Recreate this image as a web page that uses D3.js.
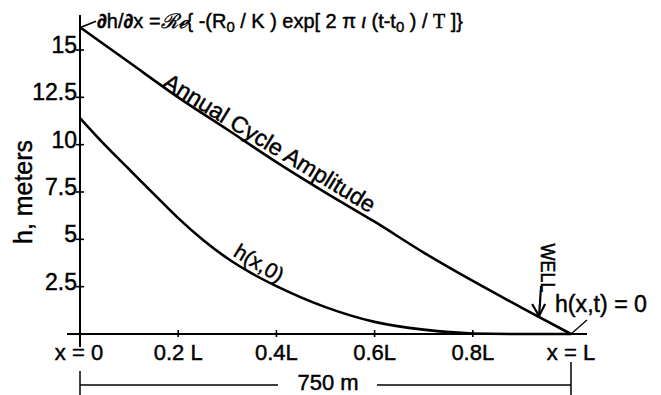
<!DOCTYPE html>
<html>
<head>
<meta charset="utf-8">
<script src="https://cdn.jsdelivr.net/npm/d3@7"></script>
<style>
  html, body { margin: 0; padding: 0; background: #fff; }
  svg { display: block; }
  text { font-family: "Liberation Sans", Arial, sans-serif; fill: #000; stroke: #000; stroke-width: 0.45px; }
</style>
</head>
<body>
<svg id="chart" width="661" height="395"></svg>
<script>
// Distance along the aquifer as a fraction of L (L = 750 m)
const ampX = [0, 0.1, 0.2, 0.3, 0.4, 0.5, 0.6, 0.7, 0.8, 0.9, 1.0];
// Annual cycle amplitude of head (metres)
const annualAmplitude = [16.2, 14.35, 12.5, 10.8, 9.08, 7.47, 5.93, 4.3, 2.8, 1.38, 0];

const headX = [0, 0.05, 0.1, 0.15, 0.2, 0.25, 0.3, 0.35, 0.4, 0.5, 0.6, 0.7, 0.8, 0.9, 1.0];
// Initial head profile h(x,0) (metres)
const initialHead = [11.4, 10.0, 8.7, 7.4, 6.12, 4.98, 4.0, 3.2, 2.53, 1.42, 0.64, 0.23, 0.03, 0, 0];

// Axis ticks
const yTickValues = [2.5, 5, 7.5, 10, 12.5, 15];
const yTickLabels = ["2.5", "5", "7.5", "10", "12.5", "15"];
const xTickValues = [0, 0.2, 0.4, 0.6, 0.8, 1.0];
const xTickLabels = ["x = 0", "0.2 L", "0.4L", "0.6L", "0.8L", "x = L"];

// Well location (fraction of L)
const wellX = 0.935;

const svg = d3.select("#chart");

const x = d3.scaleLinear().domain([0, 1]).range([80, 571]);
const y = d3.scaleLinear().domain([0, 15]).range([334, 50]);

const ink = "#000";

// ---- axes ----
const axes = svg.append("g").attr("stroke", ink).attr("fill", "none");
axes.append("line")
  .attr("x1", x(0)).attr("x2", x(0))
  .attr("y1", y(0) + 13).attr("y2", 15)
  .attr("stroke-width", 2);
axes.append("line")
  .attr("x1", x(0) - 13).attr("x2", x(1) + 16)
  .attr("y1", y(0)).attr("y2", y(0))
  .attr("stroke-width", 2.2);

// crossing ticks on y axis
axes.selectAll("line.yt").data(yTickValues).join("line")
  .attr("class", "yt")
  .attr("x1", x(0) - 4).attr("x2", x(0) + 4)
  .attr("y1", d => y(d)).attr("y2", d => y(d))
  .attr("stroke-width", 1.6);

// crossing ticks on x axis (the ends are marked by the axis itself)
axes.selectAll("line.xt").data(xTickValues.slice(1, -1)).join("line")
  .attr("class", "xt")
  .attr("x1", d => x(d)).attr("x2", d => x(d))
  .attr("y1", y(0) - 4).attr("y2", y(0) + 3)
  .attr("stroke-width", 1.6);

svg.append("g").selectAll("text").data(yTickValues).join("text")
  .attr("x", x(0) - 3)
  .attr("y", d => y(d) + 3)
  .attr("text-anchor", "end")
  .attr("font-size", 23)
  .text((d, i) => yTickLabels[i]);

svg.append("g").selectAll("text").data(xTickValues).join("text")
  .attr("x", d => x(d) - (d === 0 ? 1 : 0))
  .attr("y", 360)
  .attr("text-anchor", "middle")
  .attr("font-size", 22)
  .text((d, i) => xTickLabels[i]);

svg.append("text")
  .attr("transform", `translate(32, ${y(7.5)}) rotate(-90)`)
  .attr("text-anchor", "middle")
  .attr("font-size", 26)
  .attr("textLength", 104)
  .attr("lengthAdjust", "spacingAndGlyphs")
  .text("h, meters");

// ---- curves ----
const line = d3.line()
  .x(d => x(d[0]))
  .y(d => y(d[1]))
  .curve(d3.curveMonotoneX);

svg.append("path")
  .datum(ampX.map((v, i) => [v, annualAmplitude[i]]))
  .attr("d", line)
  .attr("fill", "none").attr("stroke", ink).attr("stroke-width", 2.6);

svg.append("path")
  .datum(headX.map((v, i) => [v, initialHead[i]]))
  .attr("d", line)
  .attr("fill", "none").attr("stroke", ink).attr("stroke-width", 2.6);

// ---- curve labels ----
svg.append("text")
  .attr("transform", `translate(${x(0.166)}, ${y(13.1)}) rotate(31.5)`)
  .attr("font-size", 23)
  .attr("textLength", 244)
  .attr("lengthAdjust", "spacingAndGlyphs")
  .text("Annual Cycle Amplitude");

svg.append("text")
  .attr("transform", `translate(${x(0.31)}, ${y(4.15)}) rotate(31)`)
  .attr("font-size", 21)
  .attr("textLength", 54)
  .attr("lengthAdjust", "spacingAndGlyphs")
  .text("h(x,0)");

// ---- boundary condition at x = 0 ----
svg.append("line")
  .attr("x1", x(0) + 1).attr("y1", y(annualAmplitude[0]))
  .attr("x2", x(0) + 16).attr("y2", y(annualAmplitude[0]) - 6)
  .attr("stroke", ink).attr("stroke-width", 1.6);

const eq = svg.append("text")
  .attr("x", 97).attr("y", 28)
  .attr("font-size", 20)
  .attr("textLength", 366)
  .attr("lengthAdjust", "spacingAndGlyphs");
eq.append("tspan").attr("font-weight", "bold").text("∂");
eq.append("tspan").text("h/");
eq.append("tspan").attr("font-weight", "bold").text("∂");
eq.append("tspan").text("x =");
eq.append("tspan").attr("font-family", "DejaVu Serif").attr("font-style", "italic").text("ℛℯ");
eq.append("tspan").text("{ -(R");
eq.append("tspan").attr("font-size", 15).attr("dy", 4).text("0");
eq.append("tspan").attr("dy", -4).text(" / K ) exp[ 2 π ");
eq.append("tspan").attr("font-style", "italic").text("ι");
eq.append("tspan").text(" (t-t");
eq.append("tspan").attr("font-size", 15).attr("dy", 4).text("0");
eq.append("tspan").attr("dy", -4).text(" ) / ");
eq.append("tspan").attr("font-family", "Liberation Serif").text("T");
eq.append("tspan").text(" ]}");

// ---- well ----
const wellTipY = y(d3.interpolateNumber(annualAmplitude[9], annualAmplitude[10])((wellX - 0.9) / 0.1));
svg.append("text")
  .attr("transform", `translate(${x(wellX) + 2}, 268) rotate(90)`)
  .attr("text-anchor", "middle")
  .attr("font-size", 20)
  .attr("textLength", 49)
  .attr("lengthAdjust", "spacingAndGlyphs")
  .text("WELL");
const arrow = svg.append("g").attr("stroke", ink).attr("fill", "none").attr("stroke-width", 2.2);
arrow.append("line")
  .attr("x1", x(wellX) + 2).attr("y1", wellTipY - 31)
  .attr("x2", x(wellX)).attr("y2", wellTipY - 1);
arrow.append("path")
  .attr("d", `M${x(wellX) - 7},${wellTipY - 13} L${x(wellX)},${wellTipY - 1} L${x(wellX) + 6},${wellTipY - 13}`);

// ---- boundary condition at x = L ----
svg.append("line")
  .attr("x1", x(1)).attr("y1", y(0))
  .attr("x2", x(1) + 16).attr("y2", y(0) - 14)
  .attr("stroke", ink).attr("stroke-width", 1.3);
svg.append("text")
  .attr("x", 555).attr("y", 312)
  .attr("font-size", 23)
  .attr("textLength", 92)
  .attr("lengthAdjust", "spacingAndGlyphs")
  .text("h(x,t) = 0");

// ---- length dimension ----
const dim = svg.append("g").attr("stroke", ink).attr("stroke-width", 1.5);
dim.append("line").attr("x1", x(0)).attr("x2", x(0)).attr("y1", 371).attr("y2", 395);
dim.append("line").attr("x1", x(1)).attr("x2", x(1)).attr("y1", 362).attr("y2", 395);
dim.append("line").attr("x1", x(0)).attr("x2", 278).attr("y1", 385).attr("y2", 385);
dim.append("line").attr("x1", 377).attr("x2", x(1)).attr("y1", 385).attr("y2", 385);
svg.append("text")
  .attr("x", 328).attr("y", 390)
  .attr("text-anchor", "middle")
  .attr("font-size", 22)
  .text("750 m");
</script>
</body>
</html>
